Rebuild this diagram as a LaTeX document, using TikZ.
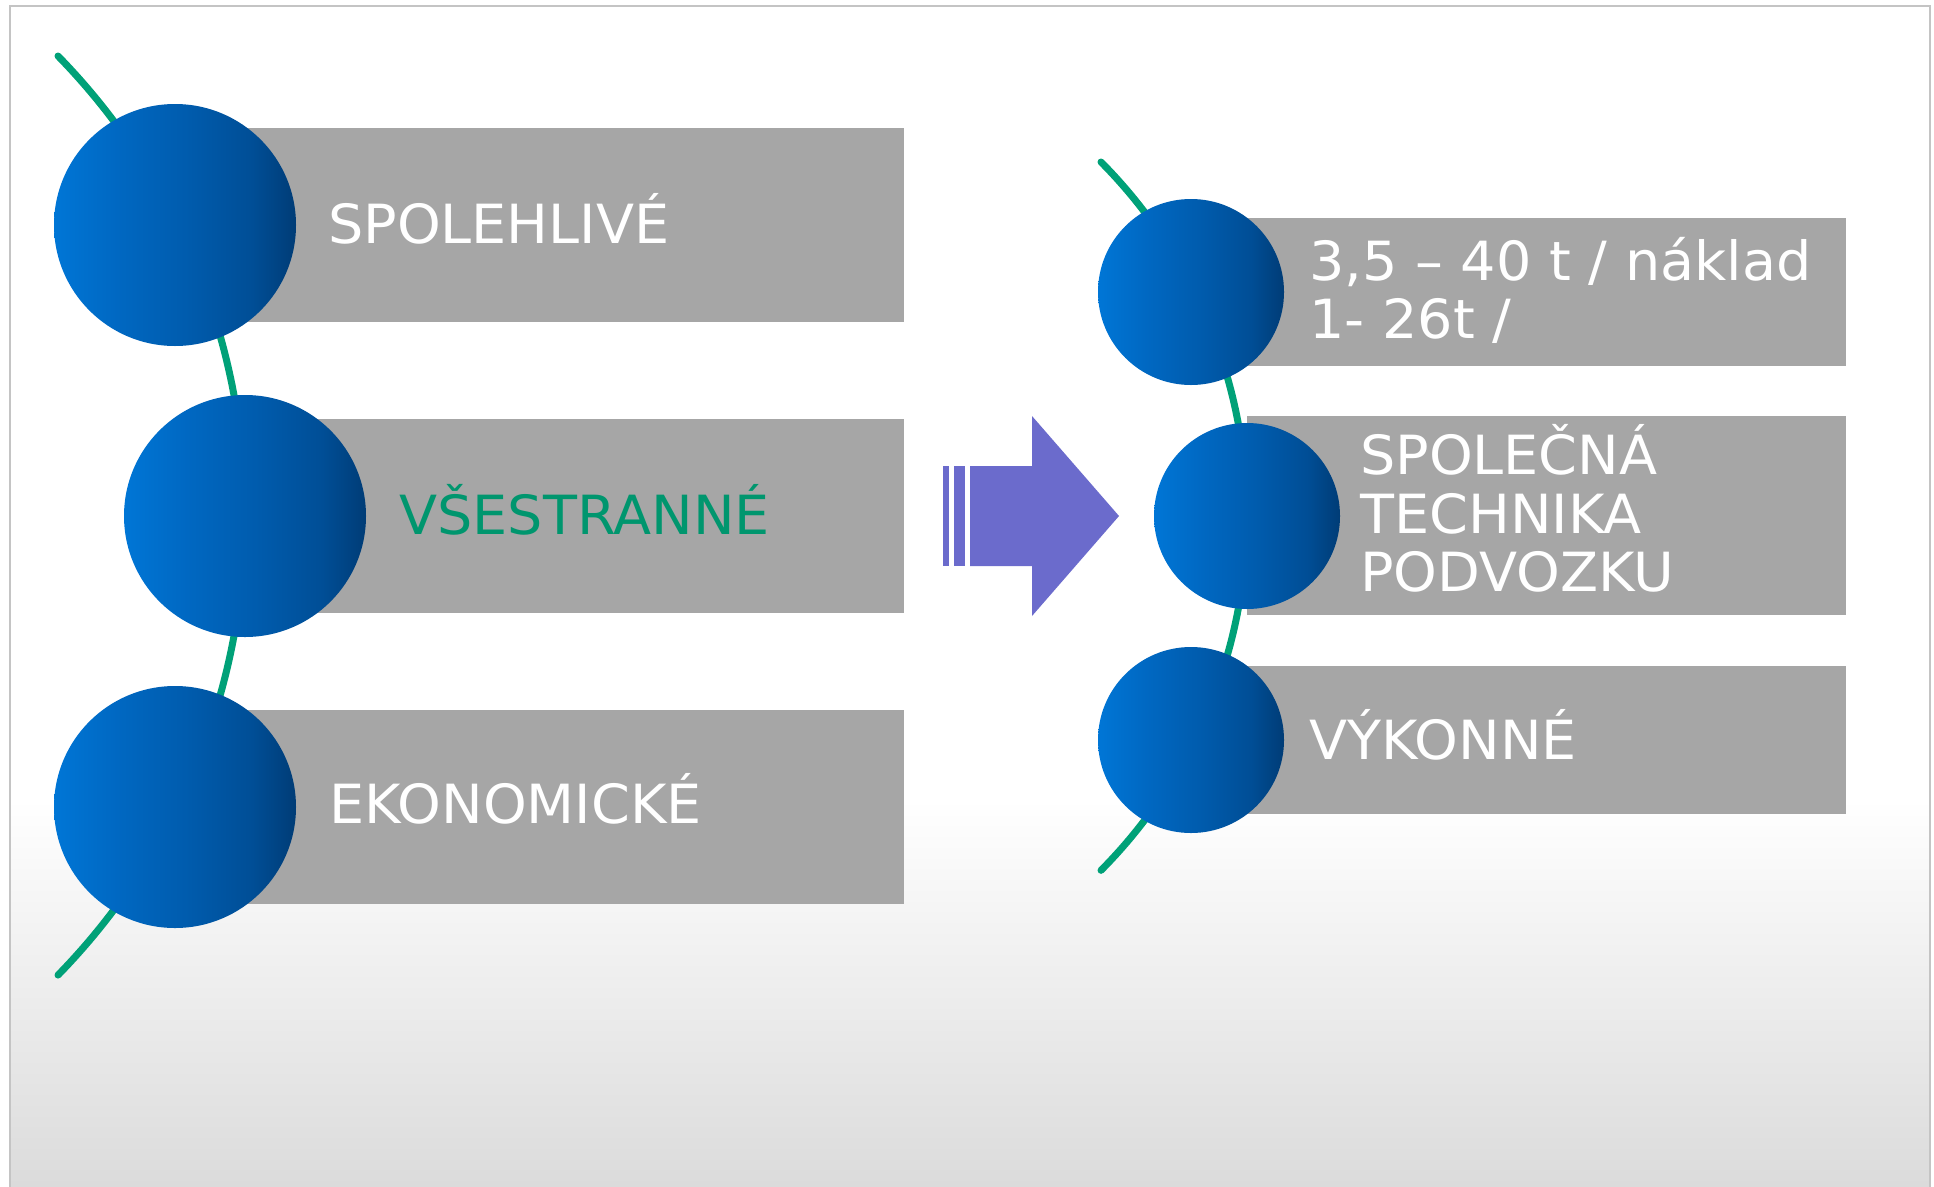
\documentclass[tikz,border=0pt]{standalone}
\usepackage{fontspec}
\setmainfont{DejaVu Sans}[FakeStretch=1.03]
\definecolor{arcgreen}{RGB}{0,161,120}
\definecolor{txtgreen}{RGB}{0,150,110}
\definecolor{boxgray}{RGB}{166,166,166}
\definecolor{ballA}{RGB}{0,118,214}
\definecolor{ballB}{RGB}{0,104,194}
\definecolor{ballC}{RGB}{0,92,174}
\definecolor{ballD}{RGB}{0,78,150}
\definecolor{ballE}{RGB}{0,60,118}
\definecolor{arrowc}{RGB}{107,107,204}
\definecolor{framec}{RGB}{196,196,196}
\definecolor{bgbottom}{RGB}{219,219,219}
\pgfdeclarehorizontalshading{ballshade}{100bp}{color(0bp)=(ballA); color(25bp)=(ballA); color(38bp)=(ballB); color(52bp)=(ballC); color(66bp)=(ballD); color(75bp)=(ballE); color(100bp)=(ballE)}
\begin{document}
\begin{tikzpicture}[x=1pt,y=-1pt,
  greenarc/.style={draw=arcgreen,line width=7pt,line cap=round},
  graybox/.style={fill=boxgray,draw=none},
  bigball/.style={circle,inner sep=0pt,minimum size=242pt,draw=none,shading=ballshade},
  smallball/.style={circle,inner sep=0pt,minimum size=186pt,draw=none,shading=ballshade},
  lbl/.style={text=white,font=\fontsize{54}{58.6}\selectfont,inner sep=0pt,anchor=base west},
  arrowfill/.style={fill=arrowc,draw=none}]
\useasboundingbox (0,0) rectangle (1934,1186);
% background
\fill[white] (0,0) rectangle (1934,1186);
\fill[white] (10,6) rectangle (1930,800);
\shade[top color=white,bottom color=bgbottom] (10,799) rectangle (1930,1186);
\draw[framec,line width=2pt] (10,1190) -- (10,6) -- (1930,6) -- (1930,1190);
% green arcs
\draw[greenarc] (58,56) arc[start angle=-44.3,end angle=44.3,radius=658];
\draw[greenarc] (1101,162) arc[start angle=-44.76,end angle=44.76,radius=503];
% left boxes
\fill[graybox] (175,128) rectangle (904,322);
\fill[graybox] (245,419) rectangle (904,613);
\fill[graybox] (175,710) rectangle (904,904);
% right boxes
\fill[graybox] (1191,218) rectangle (1846,366);
\fill[graybox] (1247,416) rectangle (1846,615);
\fill[graybox] (1191,666) rectangle (1846,814);
% balls
\node[bigball] (ba) at (175,225) {};
\node[bigball] (bb) at (245,516) {};
\node[bigball] (bc) at (175,807) {};
\node[smallball] (bd) at (1191,292) {};
\node[smallball] (be) at (1247,516) {};
\node[smallball] (bf) at (1191,740) {};
% labels
\node[lbl] (ta) at (328,243) {SPOLEHLIVÉ};
\node[lbl,text=txtgreen] (tb) at (399,534) {VŠESTRANNÉ};
\node[lbl] (tc) at (329,823) {EKONOMICKÉ};
\node[lbl] (td1) at (1309,280) {3,5 – 40 t / náklad};
\node[lbl] (td2) at (1309,338) {1- 26t /};
\node[lbl] (te1) at (1360,474) {SPOLEČNÁ};
\node[lbl] (te2) at (1360,533) {TECHNIKA};
\node[lbl] (te3) at (1360,591) {PODVOZKU};
\node[lbl] (tf) at (1309,759) {VÝKONNÉ};
% arrow
\fill[arrowfill] (943,466) rectangle (949,566);
\fill[arrowfill] (954,466) rectangle (965,566);
\fill[arrowfill] (970,466) -- (1032,466) -- (1032,416) -- (1119,516) -- (1032,616) -- (1032,566) -- (970,566) -- cycle;
\end{tikzpicture}
\end{document}
